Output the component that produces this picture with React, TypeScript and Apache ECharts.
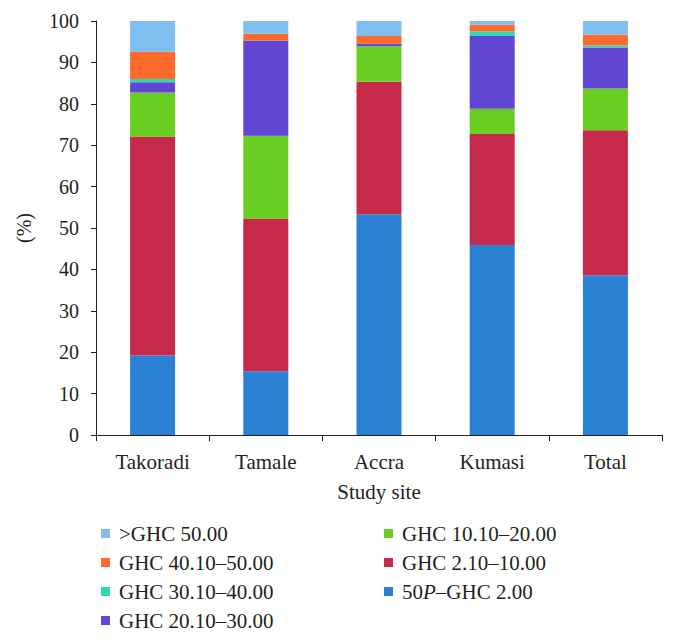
import React, { useEffect, useRef } from "react";
import * as echarts from "echarts";

const categories = ["Takoradi", "Tamale", "Accra", "Kumasi", "Total"];
const seriesNames = [
  "50P–GHC 2.00",
  "GHC 2.10–10.00",
  "GHC 10.10–20.00",
  "GHC 20.10–30.00",
  "GHC 30.10–40.00",
  "GHC 40.10–50.00",
  ">GHC 50.00",
];
const blueVals = [19.2, 15.4, 53.3, 45.9, 38.6];
const redVals = [52.9, 36.9, 32.0, 26.8, 35.0];
const greenVals = [10.6, 20.0, 8.6, 6.1, 10.1];
const purpleVals = [2.5, 23.0, 0.6, 17.6, 9.9];
const tealVals = [0.8, 0, 0, 1.1, 0.5];
const orangeVals = [6.6, 1.6, 1.9, 1.6, 2.6];
const lightBlueVals = [7.4, 3.1, 3.6, 0.9, 3.3];
const seriesValues = [blueVals, redVals, greenVals, purpleVals, tealVals, orangeVals, lightBlueVals];
const colors = ["#2a81d4", "#c52a4b", "#68cf22", "#6146d4", "#2cd8b0", "#fd6a2c", "#7fbfef"];
const leftLegend = [">GHC 50.00", "GHC 40.10–50.00", "GHC 30.10–40.00", "GHC 20.10–30.00"];
const rightLegend = ["GHC 10.10–20.00", "GHC 2.10–10.00", "50P–GHC 2.00"];

const FONT = "Liberation Serif";
const TXT = "#231f20";

export default function App() {
  const ref = useRef<HTMLDivElement>(null);
  useEffect(() => {
    document.body.style.margin = "0";
    const chart = echarts.init(ref.current!, null, { renderer: "svg" });
    const legendText = {
      fontFamily: FONT,
      fontSize: 21,
      color: TXT,
      padding: [0, 0, 0, 4],
      rich: { i: { fontFamily: FONT, fontSize: 21, color: TXT, fontStyle: "italic" } },
    };
    const fmt = (n: string) => (n === "50P–GHC 2.00" ? "50{i|P}–GHC 2.00" : n);
    const legendBase = {
      orient: "vertical",
      top: 518,
      itemWidth: 9,
      itemHeight: 9,
      itemGap: 8,
      icon: "rect",
      textStyle: legendText,
      formatter: fmt,
      selectedMode: false,
    };
    chart.setOption({
      animation: false,
      grid: { left: 96, right: 14, top: 21, bottom: 205 },
      legend: [
        { ...legendBase, data: leftLegend, left: 96 },
        { ...legendBase, data: rightLegend, left: 379 },
      ],
      xAxis: {
        type: "category",
        data: categories,
        name: "Study site",
        nameLocation: "middle",
        nameGap: 46,
        nameTextStyle: { fontFamily: FONT, fontSize: 21, color: TXT },
        axisLine: { lineStyle: { color: TXT, width: 1 } },
        axisTick: { show: true, length: 6, alignWithLabel: false, lineStyle: { color: TXT } },
        axisLabel: { fontFamily: FONT, fontSize: 21, color: TXT, margin: 16 },
      },
      yAxis: {
        type: "value",
        min: 0,
        max: 100,
        interval: 10,
        name: "(%)",
        nameLocation: "middle",
        nameGap: 62,
        nameTextStyle: { fontFamily: FONT, fontSize: 20, color: TXT },
        axisLine: { show: true, lineStyle: { color: TXT, width: 1 } },
        axisTick: { show: true, length: 5, lineStyle: { color: TXT } },
        splitLine: { show: false },
        axisLabel: { fontFamily: FONT, fontSize: 20, color: TXT, margin: 17 },
      },
      series: seriesNames.map((name, i) => ({
        name,
        type: "bar",
        stack: "total",
        barWidth: 45,
        data: seriesValues[i],
        itemStyle: { color: colors[i] },
      })),
    });
    return () => chart.dispose();
  }, []);
  return <div ref={ref} style={{ width: 676, height: 640 }} />;
}
